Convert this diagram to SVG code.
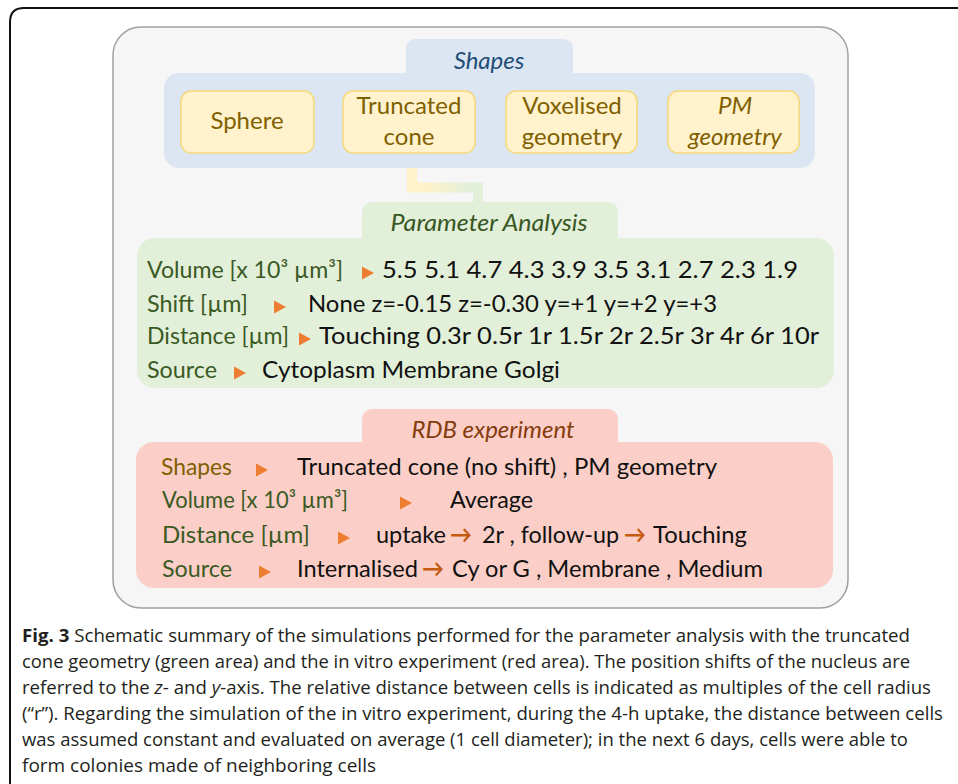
<svg xmlns="http://www.w3.org/2000/svg" width="958" height="784" viewBox="0 0 958 784">
<style>
.t{font-family:Lato,"Open Sans","Liberation Sans",sans-serif;font-size:24px}
.box{fill:#fff2cc;stroke:#f5d97a;stroke-width:1.5}
.bt{fill:#7f6000;text-anchor:middle}
.lbl{fill:#3a5a24}
.val{fill:#111}
.tri{fill:#ed7d31}
.arr{fill:#c55a11;font-weight:bold}
.cap{font-family:"Open Sans","Liberation Sans",sans-serif;font-size:18px;fill:#231f20}
</style>
<defs>
<linearGradient id="cg" gradientUnits="userSpaceOnUse" x1="425" y1="0" x2="470" y2="0">
<stop offset="0" stop-color="#fff2c8"/><stop offset="1" stop-color="#e2efd9"/>
</linearGradient>
<path id="ar" d="M0,-6.5 L12,0 L0,6.5 Z"/>
</defs>
<rect width="958" height="784" fill="#fff"/>
<path d="M10,790 V22 Q10,8 24,8 H965" fill="none" stroke="#111" stroke-width="2"/>
<rect x="113" y="27" width="735" height="581" rx="28" fill="#f6f6f6" stroke="#a0a0a0" stroke-width="1.5"/>

<g id="connectors">
<path d="M412,152 V187.5 H478 V204" fill="none" stroke="url(#cg)" stroke-width="10"/>
<use href="#ar" class="tri" x="322" y="122"/>
<use href="#ar" class="tri" x="484" y="122"/>
<use href="#ar" class="tri" x="646" y="122"/>
</g>

<g id="shapes-panel">
<rect x="406" y="39" width="167" height="45" rx="9" fill="#dce6f2"/>
<rect x="164" y="73" width="651" height="95" rx="15" fill="#dce6f2"/>
<text class="t" x="489" y="69" text-anchor="middle" font-style="italic" fill="#1f4e79">Shapes</text>
</g>
<g id="sphere">
<rect class="box" x="181" y="91" width="133" height="62" rx="10"/>
<text class="t bt" x="247" y="129">Sphere</text>
</g>
<g id="truncated-cone">
<rect class="box" x="343" y="91" width="132" height="62" rx="10"/>
<text class="t bt" x="409" y="114">Truncated</text>
<text class="t bt" x="409" y="145">cone</text>
</g>
<g id="voxelised">
<rect class="box" x="506" y="91" width="131" height="62" rx="10"/>
<text class="t bt" x="572" y="114">Voxelised</text>
<text class="t bt" x="572" y="145">geometry</text>
</g>
<g id="pm-geometry">
<rect class="box" x="668" y="91" width="131" height="62" rx="10"/>
<text class="t bt" x="735" y="114" font-style="italic">PM</text>
<text class="t bt" x="735" y="145" font-style="italic">geometry</text>
</g>

<g id="parameter-analysis">
<rect x="362" y="202" width="256" height="46" rx="10" fill="#e2efd9"/>
<rect x="137" y="238" width="697" height="150" rx="18" fill="#e2efd9"/>
<text class="t" x="489" y="231" text-anchor="middle" font-style="italic" fill="#385723" textLength="197" lengthAdjust="spacingAndGlyphs">Parameter Analysis</text>
<text class="t lbl" x="147" y="278" textLength="196" lengthAdjust="spacingAndGlyphs">Volume [x 10³ µm³]</text>
<use href="#ar" class="tri" x="362" y="273"/>
<text class="t val" x="382" y="278" textLength="416" lengthAdjust="spacingAndGlyphs">5.5 5.1 4.7 4.3 3.9 3.5 3.1 2.7 2.3 1.9</text>
<text class="t lbl" x="147" y="312" textLength="101" lengthAdjust="spacingAndGlyphs">Shift [µm]</text>
<use href="#ar" class="tri" x="274" y="307"/>
<text class="t val" x="308" y="312" textLength="409" lengthAdjust="spacingAndGlyphs">None z=-0.15 z=-0.30 y=+1 y=+2 y=+3</text>
<text class="t lbl" x="147" y="344" textLength="142" lengthAdjust="spacingAndGlyphs">Distance [µm]</text>
<use href="#ar" class="tri" x="299" y="339"/>
<text class="t val" x="319" y="344" textLength="500" lengthAdjust="spacingAndGlyphs">Touching 0.3r 0.5r 1r 1.5r 2r 2.5r 3r 4r 6r 10r</text>
<text class="t lbl" x="147" y="378" textLength="70" lengthAdjust="spacingAndGlyphs">Source</text>
<use href="#ar" class="tri" x="234" y="373"/>
<text class="t val" x="262" y="378" textLength="298" lengthAdjust="spacingAndGlyphs">Cytoplasm Membrane Golgi</text>
</g>

<g id="rdb-experiment">
<rect x="362" y="409" width="256" height="46" rx="10" fill="#fbcfc7"/>
<rect x="136" y="442" width="697" height="146" rx="18" fill="#fbcfc7"/>
<text class="t" x="493" y="438" text-anchor="middle" font-style="italic" fill="#843c0c" textLength="163" lengthAdjust="spacingAndGlyphs">RDB experiment</text>
<text class="t" x="161" y="475" fill="#7f6000" textLength="71" lengthAdjust="spacingAndGlyphs">Shapes</text>
<use href="#ar" class="tri" x="256" y="470"/>
<text class="t val" x="297" y="475" textLength="420" lengthAdjust="spacingAndGlyphs">Truncated cone (no shift) ,  PM geometry</text>
<text class="t lbl" x="162" y="508" textLength="186" lengthAdjust="spacingAndGlyphs">Volume [x 10³ µm³]</text>
<use href="#ar" class="tri" x="400" y="503"/>
<text class="t val" x="450" y="508" textLength="83" lengthAdjust="spacingAndGlyphs">Average</text>
<text class="t lbl" x="162" y="543" textLength="148" lengthAdjust="spacingAndGlyphs">Distance  [µm]</text>
<use href="#ar" class="tri" x="338" y="538"/>
<text class="t val" x="376" y="543" textLength="70" lengthAdjust="spacingAndGlyphs">uptake</text>
<text class="t arr" x="450" y="543" textLength="22" lengthAdjust="spacingAndGlyphs">→</text>
<text class="t val" x="482" y="543" textLength="137" lengthAdjust="spacingAndGlyphs">2r , follow-up</text>
<text class="t arr" x="624" y="543" textLength="22" lengthAdjust="spacingAndGlyphs">→</text>
<text class="t val" x="653" y="543" textLength="94" lengthAdjust="spacingAndGlyphs">Touching</text>
<text class="t lbl" x="162" y="577" textLength="70" lengthAdjust="spacingAndGlyphs">Source</text>
<use href="#ar" class="tri" x="259" y="572"/>
<text class="t val" x="297" y="577" textLength="121" lengthAdjust="spacingAndGlyphs">Internalised</text>
<text class="t arr" x="422" y="577" textLength="22" lengthAdjust="spacingAndGlyphs">→</text>
<text class="t val" x="452" y="577" textLength="311" lengthAdjust="spacingAndGlyphs">Cy or G , Membrane , Medium</text>
</g>

<g id="caption">
<text class="cap" x="22" y="642" textLength="888" lengthAdjust="spacingAndGlyphs"><tspan font-weight="bold">Fig. 3</tspan> Schematic summary of the simulations performed for the parameter analysis with the truncated</text>
<text class="cap" x="22" y="668" textLength="888" lengthAdjust="spacingAndGlyphs">cone geometry (green area) and the in vitro experiment (red area). The position shifts of the nucleus are</text>
<text class="cap" x="22" y="694" textLength="909" lengthAdjust="spacingAndGlyphs">referred to the <tspan font-style="italic">z</tspan>- and <tspan font-style="italic">y</tspan>-axis. The relative distance between cells is indicated as multiples of the cell radius</text>
<text class="cap" x="22" y="720" textLength="921" lengthAdjust="spacingAndGlyphs">(“r”). Regarding the simulation of the in vitro experiment, during the 4-h uptake, the distance between cells</text>
<text class="cap" x="22" y="746" textLength="886" lengthAdjust="spacingAndGlyphs">was assumed constant and evaluated on average (1 cell diameter); in the next 6 days, cells were able to</text>
<text class="cap" x="22" y="772" textLength="354" lengthAdjust="spacingAndGlyphs">form colonies made of neighboring cells</text>
</g>
</svg>
